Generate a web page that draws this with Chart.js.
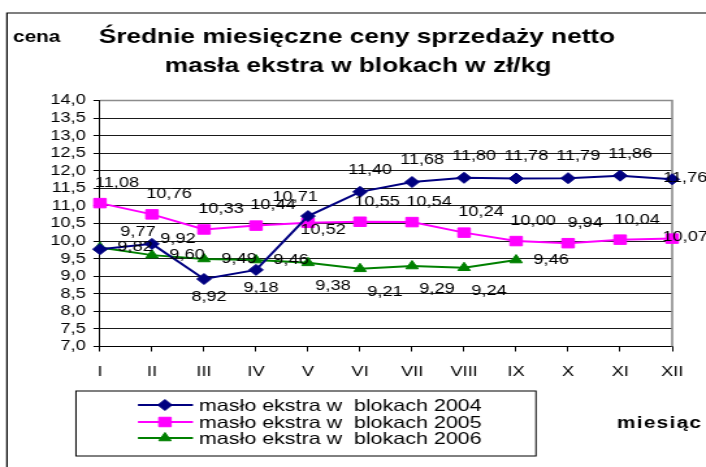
<!DOCTYPE html>
<html>
<head>
<meta charset="utf-8">
<script src="https://cdn.jsdelivr.net/npm/chart.js@4.4.1/dist/chart.umd.min.js"></script>
<style>
  body { margin: 0; background: #fff; overflow: hidden; }
  #wrap { width: 543px; height: 467px; transform: scaleX(1.3002); transform-origin: 0 0; }
  #myChart { display: block; background: #fff; }
</style>
</head>
<body>
<div id="wrap"><canvas id="myChart" width="543" height="467"></canvas></div>
<script>
// Data
let months = ["I", "II", "III", "IV", "V", "VI", "VII", "VIII", "IX", "X", "XI", "XII"];
let seriesNames = ["masło ekstra w  blokach 2004", "masło ekstra w  blokach 2005", "masło ekstra w  blokach 2006"];
let prices2004 = [9.77, 9.92, 8.92, 9.18, 10.71, 11.40, 11.68, 11.80, 11.78, 11.79, 11.86, 11.76];
let prices2005 = [11.08, 10.76, 10.33, 10.44, 10.52, 10.55, 10.54, 10.24, 10.00, 9.94, 10.04, 10.07];
let prices2006 = [9.82, 9.60, 9.49, 9.46, 9.38, 9.21, 9.29, 9.24, 9.46];
let yMin = 7, yMax = 14, yStep = 0.5;

// the old picture is stretched sideways, so draw on a narrow canvas and widen it with css
let stretch = 706 / 543;
function sx(x) { return x / stretch; }

let fontFamily = '"Liberation Sans", Arial, sans-serif';
Chart.defaults.font.family = fontFamily;
Chart.defaults.color = "#000";

// where each value label sits next to its point (screen px)
let labelOffsets = {
  a: [10, -22], p: [17, -20], b: [5, 18], r: [35, 0], q: [26, -5], u: [38, -17],
  l: [-13, -19], d: [15, 7], g: [25, 23], e: [13, -1]
};
let labelPos = [
  ["u", "q", "b", "b", "l", "a", "a", "a", "a", "a", "a", "e"],
  ["p", "p", "p", "p", "d", "p", "p", "p", "p", "p", "p", "e"],
  ["r", "r", "r", "r", "g", "g", "g", "g", "r"]
];

function comma(v, d) { return v.toFixed(d).replace(".", ","); }

const pointLabels = {
  id: "pointLabels",
  afterDatasetsDraw(chart) {
    let ctx = chart.ctx;
    ctx.save();
    ctx.font = "14px " + fontFamily;
    ctx.fillStyle = "#000";
    ctx.textAlign = "center";
    ctx.textBaseline = "middle";
    chart.data.datasets.forEach((ds, i) => {
      chart.getDatasetMeta(i).data.forEach((pt, j) => {
        let off = labelOffsets[labelPos[i][j]];
        ctx.fillText(comma(ds.data[j], 2), pt.x + sx(off[0]), pt.y + off[1]);
      });
    });
    ctx.restore();
  }
};

const decorations = {
  id: "decorations",
  beforeDatasetsDraw(chart) {
    let ctx = chart.ctx, a = chart.chartArea;
    ctx.save();
    ctx.strokeStyle = "#8c8c8c";
    ctx.lineWidth = 1.6;
    ctx.beginPath();
    ctx.moveTo(a.left, a.top);
    ctx.lineTo(a.right, a.top);
    ctx.lineTo(a.right, a.bottom);
    ctx.stroke();
    ctx.restore();
  },
  afterDraw(chart) {
    let ctx = chart.ctx;
    ctx.save();
    // outer frame (cut off at right and bottom)
    ctx.strokeStyle = "#000";
    ctx.lineWidth = 1.2;
    ctx.beginPath();
    ctx.moveTo(sx(7), 467);
    ctx.lineTo(sx(7), 13);
    ctx.lineTo(543, 13);
    ctx.stroke();

    ctx.fillStyle = "#000";
    ctx.textBaseline = "middle";
    ctx.textAlign = "center";
    ctx.font = "bold 20.2px " + fontFamily;
    ctx.fillText("Średnie miesięczne ceny sprzedaży netto", sx(357), 37);
    ctx.fillText("masła ekstra w blokach w zł/kg", sx(358), 66);

    ctx.textAlign = "left";
    ctx.font = "bold 16px " + fontFamily;
    ctx.fillText("cena", sx(13), 38);
    ctx.letterSpacing = "1px";
    ctx.fillText("miesiąc", sx(617), 424);
    ctx.letterSpacing = "0px";

    // legend
    ctx.lineWidth = 1;
    ctx.strokeStyle = "#000";
    ctx.strokeRect(sx(76), 391, sx(536) - sx(76), 65);
    let rows = [405, 422, 438];
    ctx.font = "16.5px " + fontFamily;
    chart.data.datasets.forEach((ds, i) => {
      let y = rows[i];
      ctx.strokeStyle = ds.borderColor;
      ctx.lineWidth = 2;
      ctx.beginPath();
      ctx.moveTo(sx(138), y);
      ctx.lineTo(sx(193), y);
      ctx.stroke();
      ctx.fillStyle = ds.backgroundColor;
      ctx.lineWidth = 1;
      Chart.helpers.drawPoint(ctx, { pointStyle: ds.pointStyle, radius: ds.pointRadius, rotation: 0, borderWidth: 1 }, sx(165), y);
      ctx.fillStyle = "#000";
      ctx.fillText(ds.label, sx(199), y + 1);
    });
    ctx.restore();
  }
};

function series(label, data, color, style, radius) {
  return {
    label: label,
    data: data,
    borderColor: color,
    backgroundColor: color,
    borderWidth: 2,
    pointStyle: style,
    pointRadius: radius,
    pointHoverRadius: radius,
    pointBorderWidth: 1,
    tension: 0,
    clip: false
  };
}

new Chart("myChart", {
  type: "line",
  data: {
    labels: months,
    datasets: [
      series(seriesNames[0], prices2004, "#000080", "rectRot", 5.5),
      series(seriesNames[1], prices2005, "#ff00ff", "rect", 6.7),
      series(seriesNames[2], prices2006, "#008000", "triangle", 5.5)
    ]
  },
  options: {
    responsive: false,
    devicePixelRatio: 1,
    animation: false,
    layout: { padding: { top: 100.5, right: 26, left: 0, bottom: 0 } },
    plugins: {
      legend: { display: false },
      title: { display: false },
      tooltip: { enabled: false }
    },
    scales: {
      x: {
        offset: false,
        grid: { drawOnChartArea: false, drawTicks: true, tickLength: 5, color: "#000" },
        border: { color: "#000", width: 1 },
        ticks: { font: { size: 14 }, padding: 12, maxRotation: 0, autoSkip: false },
        afterFit(scale) { scale.height = 467 - 346.5; }
      },
      y: {
        min: yMin,
        max: yMax,
        grid: {
          color: (c) => (c.tick && c.tick.value === yMax ? "rgba(0,0,0,0)" : "#1a1a1a"),
          tickColor: "#000",
          tickLength: 5,
          lineWidth: 1
        },
        border: { color: "#000", width: 1 },
        ticks: {
          stepSize: yStep,
          autoSkip: false,
          font: { size: 14, lineHeight: 1 },
          padding: 6,
          callback: (v) => comma(v, 1)
        },
        afterFit(scale) { scale.width = sx(100); }
      }
    }
  },
  plugins: [decorations, pointLabels]
});
</script>
</body>
</html>
